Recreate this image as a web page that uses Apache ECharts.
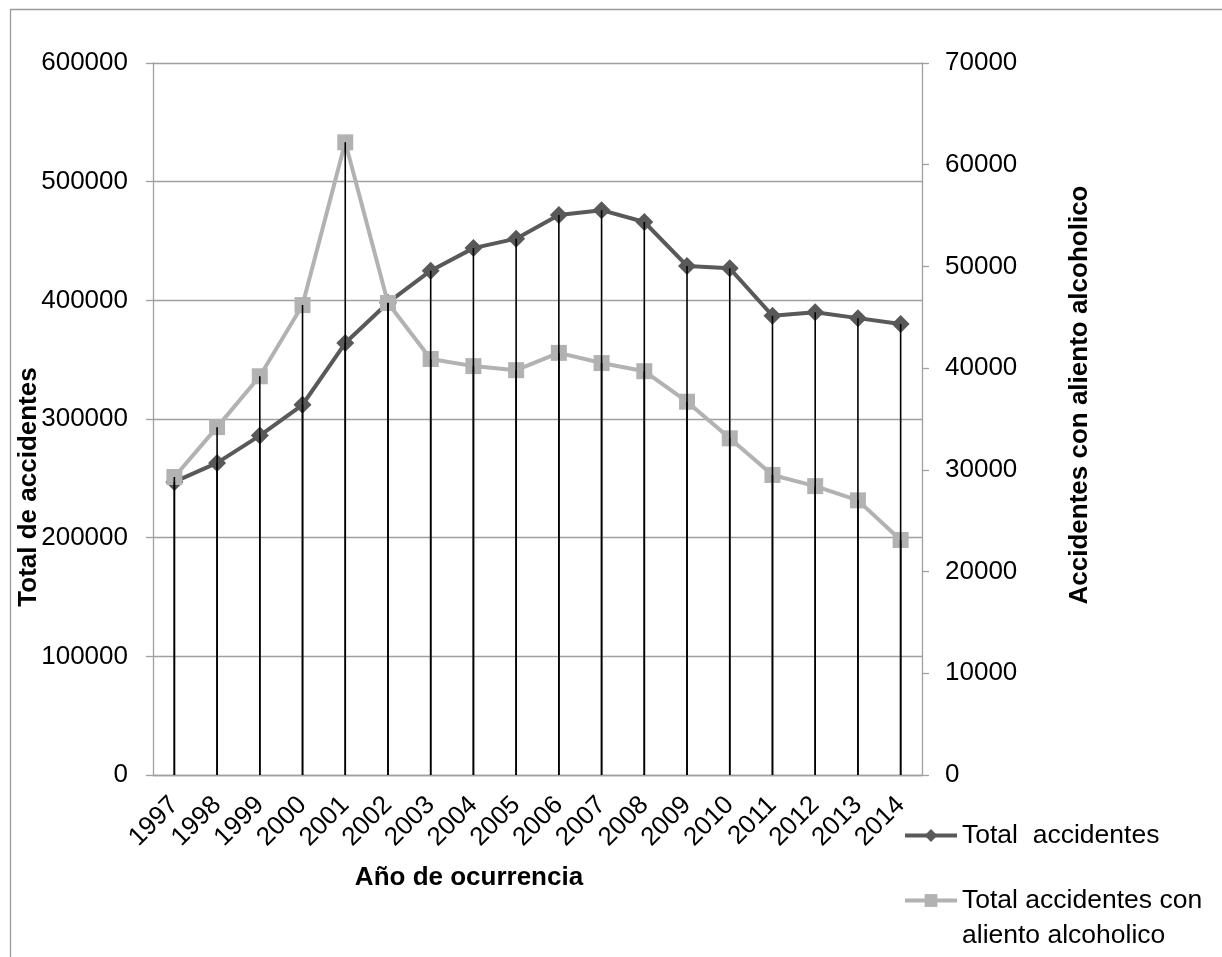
<!DOCTYPE html>
<html>
<head>
<meta charset="utf-8">
<title>Accidentes</title>
<script src="https://cdn.jsdelivr.net/npm/echarts@6/dist/echarts.min.js"></script>
<style>
  html, body { margin: 0; padding: 0; background: #fff; }
  #chart { width: 1222px; height: 957px; }
</style>
</head>
<body>
<div id="chart"></div>
<script>
// datos
var years = ['1997', '1998', '1999', '2000', '2001', '2002', '2003', '2004', '2005',
  '2006', '2007', '2008', '2009', '2010', '2011', '2012', '2013', '2014']
var totalAccidentes = [247000, 263000, 286000, 312000, 364000, 398000, 425000, 444000, 452000,
  472000, 476000, 466000, 429000, 427000, 387000, 390000, 385000, 380000]
var alientoAlcoholico = [29300, 34200, 39200, 46200, 62200, 46400, 40900, 40200, 39800,
  41500, 40500, 39700, 36700, 33100, 29500, 28400, 27000, 23100]
var leftTicks = { min: 0, max: 600000, interval: 100000 }
var rightTicks = { min: 0, max: 70000, interval: 10000 }

var FONT = '"Liberation Sans", Arial, sans-serif'
var GRID_GREY = '#a0a0a0'

var chart = echarts.init(document.getElementById('chart'))

function plain(v) {
  return String(v)
}

chart.setOption({
  animation: false,
  backgroundColor: '#fff',
  textStyle: { fontFamily: FONT, color: '#000' },
  grid: { left: 153, right: 300, top: 63, bottom: 182, containLabel: false },
  graphic: [
    { // marco exterior
      type: 'rect', left: 8, top: 7, z: -10, silent: true,
      shape: { width: 1400, height: 1100 },
      style: { fill: 'none', stroke: '#9a9a9a', lineWidth: 1.3 }
    },
    {
      type: 'text', x: 29, y: 487, rotation: Math.PI / 2,
      style: { text: 'Total de accidentes', font: 'bold 26px ' + FONT, fill: '#000', align: 'center', verticalAlign: 'middle' }
    },
    {
      type: 'text', x: 1080, y: 395, rotation: Math.PI / 2,
      style: { text: 'Accidentes con aliento alcoholico', font: 'bold 26px ' + FONT, fill: '#000', align: 'center', verticalAlign: 'middle' }
    },
    {
      type: 'text', x: 469, y: 878,
      style: { text: 'Año de ocurrencia', font: 'bold 26px ' + FONT, fill: '#000', align: 'center', verticalAlign: 'middle' }
    }
  ],
  legend: [{
    data: ['Total  accidentes'],
    orient: 'vertical',
    left: 903,
    top: 818,
    padding: 0,
    itemWidth: 52,
    itemHeight: 16,
    lineStyle: { width: 4 },
    textStyle: { fontSize: 26.5, fontFamily: FONT, color: '#000', lineHeight: 35 }
  }, {
    data: ['Total accidentes con aliento alcoholico'],
    orient: 'vertical',
    left: 903,
    top: 848,
    padding: 0,
    itemWidth: 52,
    itemHeight: 16,
    lineStyle: { width: 4 },
    formatter: function () {
      return ' \nTotal accidentes con\naliento alcoholico'
    },
    textStyle: { fontSize: 26.5, fontFamily: FONT, color: '#000', lineHeight: 35 }
  }],
  xAxis: {
    type: 'category',
    data: years,
    boundaryGap: true,
    axisLine: { lineStyle: { color: GRID_GREY, width: 1.3 } },
    axisTick: { show: false },
    axisLabel: { rotate: 45, fontSize: 26, color: '#000', fontFamily: FONT, margin: 26, interval: 0 }
  },
  yAxis: [{
    type: 'value',
    min: leftTicks.min,
    max: leftTicks.max,
    interval: leftTicks.interval,
    axisLine: { show: true, lineStyle: { color: GRID_GREY, width: 1.3 } },
    axisTick: { show: true, length: 7, lineStyle: { color: GRID_GREY, width: 1.3 } },
    axisLabel: { fontSize: 26, color: '#000', fontFamily: FONT, margin: 25, formatter: plain },
    splitLine: { lineStyle: { color: GRID_GREY, width: 1.3 } }
  }, {
    type: 'value',
    position: 'right',
    min: rightTicks.min,
    max: rightTicks.max,
    interval: rightTicks.interval,
    axisLine: { show: true, lineStyle: { color: GRID_GREY, width: 1.3 } },
    axisTick: { show: true, length: 7, lineStyle: { color: GRID_GREY, width: 1.3 } },
    axisLabel: { fontSize: 26, color: '#000', fontFamily: FONT, margin: 23, formatter: plain },
    splitLine: { show: false }
  }],
  series: [
    {
      name: 'Total  accidentes',
      type: 'line',
      yAxisIndex: 0,
      data: totalAccidentes,
      symbol: 'diamond',
      symbolSize: 18,
      z: 2,
      color: '#595959',
      lineStyle: { color: '#595959', width: 4 },
      itemStyle: { color: '#595959' }
    },
    {
      name: 'Total accidentes con aliento alcoholico',
      type: 'line',
      yAxisIndex: 1,
      data: alientoAlcoholico,
      symbol: 'rect',
      symbolSize: 16,
      z: 3,
      color: '#b2b2b2',
      lineStyle: { color: '#b2b2b2', width: 4 },
      itemStyle: { color: '#b2b2b2' }
    },
    { // lineas de caida
      name: 'drop1',
      type: 'bar',
      yAxisIndex: 0,
      data: totalAccidentes,
      barWidth: 1.6,
      barGap: '-100%',
      z: 5,
      silent: true,
      itemStyle: { color: '#000' }
    },
    {
      name: 'drop2',
      type: 'bar',
      yAxisIndex: 1,
      data: alientoAlcoholico,
      barWidth: 1.6,
      barGap: '-100%',
      z: 5,
      silent: true,
      itemStyle: { color: '#000' }
    }
  ]
})
</script>
</body>
</html>
